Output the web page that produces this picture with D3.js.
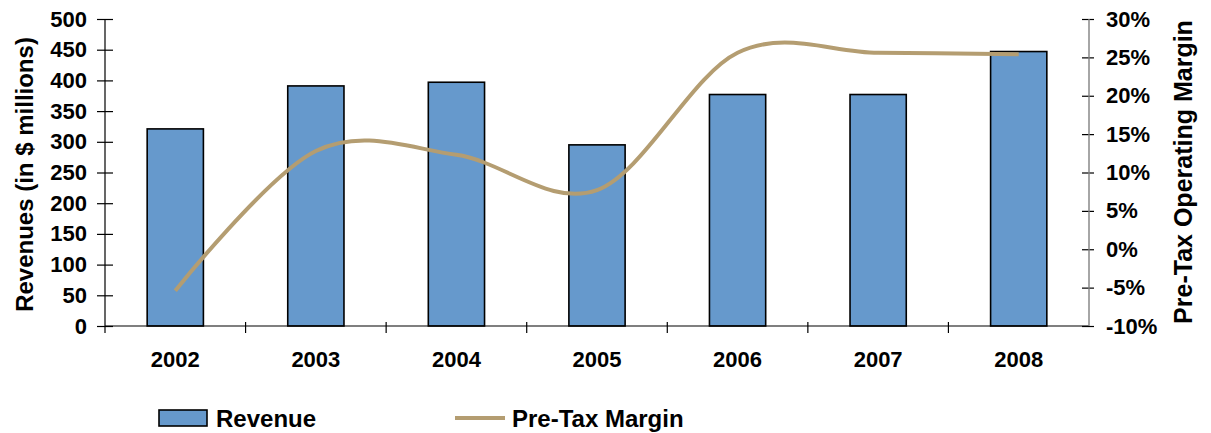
<!DOCTYPE html>
<html>
<head>
<meta charset="utf-8">
<script src="https://cdn.jsdelivr.net/npm/d3@7"></script>
<style>
  html, body { margin: 0; padding: 0; background: #fff; }
  svg { display: block; font-family: "Liberation Sans", Arial, sans-serif; font-weight: bold; }
</style>
</head>
<body>
<svg id="chart" width="1211" height="433"></svg>
<script>
// Revenue and pre-tax operating margin, 2002–2008
const years = ["2002", "2003", "2004", "2005", "2006", "2007", "2008"];
const revenue = [321, 391, 397, 295, 377, 377, 447];          // $ millions
const margin = [-5.4, 12.8, 12.3, 7.7, 25.6, 25.6, 25.4];      // percent
const revenueTicks = [0, 50, 100, 150, 200, 250, 300, 350, 400, 450, 500];
const marginTicks = [-10, -5, 0, 5, 10, 15, 20, 25, 30];

const svg = d3.select("#chart");
const plot = { left: 105, right: 1089, top: 19, bottom: 326 };

const x = d3.scaleBand().domain(years).range([plot.left, plot.right]).padding(0);
const yL = d3.scaleLinear().domain([0, 500]).range([plot.bottom, plot.top]);
const yR = d3.scaleLinear().domain([-10, 30]).range([plot.bottom, plot.top]);

const barFill = "#6699cc";
const lineColor = "#b49d71";

// Bars
const barW = x.bandwidth() * 0.4;
svg.append("g").selectAll("rect")
  .data(years)
  .join("rect")
  .attr("x", (d) => x(d) + (x.bandwidth() - barW) / 2)
  .attr("y", (d, i) => yL(revenue[i]))
  .attr("width", barW)
  .attr("height", (d, i) => yL(0) - yL(revenue[i]))
  .attr("fill", barFill)
  .attr("stroke", "#000")
  .attr("stroke-width", 1.6);

// X axis baseline with category boundary ticks
const xAxis = svg.append("g");
xAxis.append("line")
  .attr("x1", plot.left).attr("x2", plot.right)
  .attr("y1", plot.bottom).attr("y2", plot.bottom)
  .attr("stroke", "#000").attr("stroke-width", 1.2);
xAxis.selectAll("line.tick")
  .data(years.slice(1))
  .join("line")
  .attr("class", "tick")
  .attr("x1", (d) => x(d)).attr("x2", (d) => x(d))
  .attr("y1", plot.bottom - 4).attr("y2", plot.bottom + 7)
  .attr("stroke", "#000").attr("stroke-width", 1.2);
xAxis.selectAll("text")
  .data(years)
  .join("text")
  .attr("x", (d) => x(d) + x.bandwidth() / 2)
  .attr("y", 367)
  .attr("text-anchor", "middle")
  .attr("font-size", 22)
  .attr("fill", "#000")
  .text((d) => d);

// Left axis (revenue)
const left = svg.append("g").attr("transform", `translate(${plot.left},0)`)
  .call(d3.axisLeft(yL).tickValues(revenueTicks).tickSize(8).tickSizeOuter(0).tickPadding(10));
left.select(".domain").remove();
left.append("line").attr("x1", 0).attr("x2", 0).attr("y1", plot.top).attr("y2", plot.bottom + 7)
  .attr("stroke", "#000").attr("stroke-width", 1.2);
left.selectAll(".tick line").attr("x1", 8).attr("x2", -8).attr("stroke", "#000").attr("stroke-width", 1.2);
left.selectAll(".tick text")
  .attr("font-size", 22).attr("font-family", "Liberation Sans, Arial, sans-serif")
  .attr("font-weight", "bold").attr("fill", "#000").attr("x", -18);

// Right axis (margin)
const right = svg.append("g").attr("transform", `translate(${plot.right},0)`)
  .call(d3.axisRight(yR).tickValues(marginTicks).tickSize(5).tickSizeOuter(0)
    .tickFormat((d) => d + "%"));
right.select(".domain").remove();
right.append("line").attr("x1", 0).attr("x2", 0).attr("y1", plot.top).attr("y2", plot.bottom)
  .attr("stroke", "#808080").attr("stroke-width", 1.4);
right.selectAll(".tick line").attr("x1", -7).attr("x2", 5).attr("stroke", "#000").attr("stroke-width", 1.2);
right.selectAll(".tick text")
  .attr("font-size", 22).attr("font-family", "Liberation Sans, Arial, sans-serif")
  .attr("font-weight", "bold").attr("fill", "#000").attr("x", 17);

// Margin line, smoothed through each year's value
const line = d3.line()
  .x((d, i) => x(years[i]) + x.bandwidth() / 2)
  .y((d) => yR(d))
  .curve(d3.curveCardinal.tension(0));
svg.append("path")
  .datum(margin)
  .attr("d", line)
  .attr("fill", "none")
  .attr("stroke", lineColor)
  .attr("stroke-width", 4)
  .attr("stroke-linejoin", "round");

// Axis titles
svg.append("text")
  .attr("transform", `translate(33,${(plot.top + plot.bottom) / 2 + 2}) rotate(-90)`)
  .attr("text-anchor", "middle")
  .attr("font-size", 24)
  .attr("fill", "#000")
  .text("Revenues (in $ millions)");
svg.append("text")
  .attr("transform", `translate(1192,172) rotate(-90)`)
  .attr("text-anchor", "middle")
  .attr("font-size", 25)
  .attr("fill", "#000")
  .text("Pre-Tax Operating Margin");

// Legend
const legend = svg.append("g");
legend.append("rect")
  .attr("x", 159).attr("y", 410).attr("width", 48).attr("height", 16)
  .attr("fill", barFill).attr("stroke", "#000").attr("stroke-width", 1.6);
legend.append("text")
  .attr("x", 216).attr("y", 427).attr("font-size", 24).attr("fill", "#000")
  .text("Revenue");
legend.append("line")
  .attr("x1", 455).attr("x2", 505).attr("y1", 418).attr("y2", 418)
  .attr("stroke", lineColor).attr("stroke-width", 4);
legend.append("text")
  .attr("x", 512).attr("y", 427).attr("font-size", 24).attr("fill", "#000")
  .text("Pre-Tax Margin");
</script>
</body>
</html>
